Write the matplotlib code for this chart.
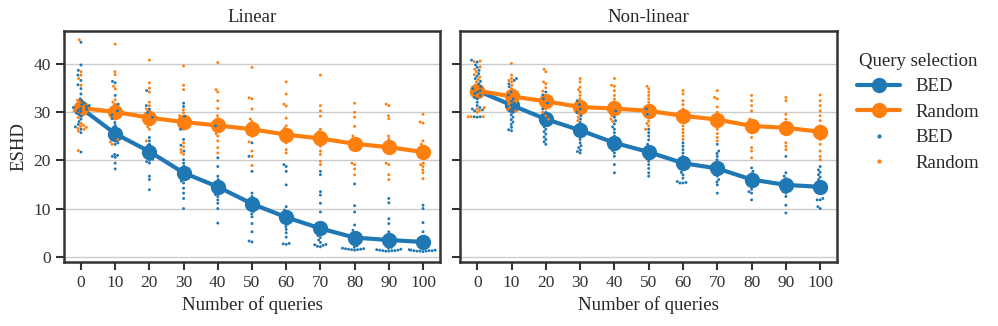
import matplotlib
matplotlib.use("Agg")
import matplotlib.pyplot as plt
from matplotlib.lines import Line2D
import numpy as np
import pandas as pd
import seaborn as sns

queries = [0, 10, 20, 30, 40, 50, 60, 70, 80, 90, 100]
methods = ["BED", "Random"]
colors = ["#1f77b4", "#ff7f0e"]

# mean ESHD per number of queries
lin_bed_mean = [30.8, 25.5, 21.8, 17.4, 14.5, 11.0, 8.2, 5.9, 4.0, 3.5, 3.1]
lin_rnd_mean = [30.8, 30.0, 28.8, 27.9, 27.2, 26.4, 25.3, 24.5, 23.4, 22.7, 21.7]
nl_bed_mean = [34.4, 31.4, 28.5, 26.2, 23.6, 21.7, 19.4, 18.3, 16.0, 14.9, 14.5]
nl_rnd_mean = [34.4, 33.2, 32.2, 31.0, 30.7, 30.2, 29.2, 28.4, 27.1, 26.7, 25.9]

# half width of the error bars
lin_bed_err = [1.6, 1.6, 1.5, 1.5, 1.4, 1.4, 1.3, 1.3, 1.0, 1.0, 1.0]
lin_rnd_err = [1.8, 1.6, 1.5, 1.5, 1.5, 1.4, 1.4, 1.4, 1.3, 1.3, 1.3]
nl_bed_err = [1.0, 1.0, 1.0, 1.0, 1.1, 1.1, 1.0, 1.0, 1.0, 1.0, 1.1]
nl_rnd_err = [1.0, 1.0, 1.0, 1.0, 1.0, 1.0, 1.0, 1.0, 1.0, 1.0, 1.0]

# individual runs
lin_bed_pts = [
    [44.4, 39.7, 38.6, 37.6, 36.5, 35.6, 34.8, 33.7, 32.7, 32.2, 31.8, 31.5, 31.3, 31.1, 30.9, 30.7, 30.5, 30.3, 30.1, 29.8, 29.5, 29.1, 28.5, 28.0, 27.4, 26.9, 26.4, 25.7, 21.7],
    [36.3, 36.0, 33.4, 31.6, 30.2, 29.4, 28.6, 27.8, 27.2, 26.7, 26.3, 26.0, 25.8, 25.6, 25.4, 25.2, 25.0, 24.7, 24.4, 24.0, 23.6, 23.3, 21.2, 21.0, 20.8, 20.6, 19.4, 18.2],
    [34.4, 31.3, 30.6, 29.9, 28.9, 24.7, 24.0, 23.3, 22.6, 22.2, 21.9, 21.6, 21.4, 21.2, 21.0, 20.8, 20.6, 20.4, 20.2, 20.0, 19.7, 19.4, 16.7, 16.0, 13.9],
    [31.8, 31.1, 29.1, 26.4, 24.3, 23.1, 21.9, 20.1, 19.4, 18.8, 18.3, 17.9, 17.6, 17.4, 17.2, 17.0, 16.8, 16.6, 16.3, 16.0, 15.7, 15.3, 14.2, 13.2, 12.1, 10.0],
    [27.1, 20.5, 18.7, 16.7, 16.0, 15.5, 15.1, 14.8, 14.6, 14.4, 14.2, 14.0, 13.8, 13.5, 13.2, 12.9, 12.5, 11.8, 11.1, 10.0, 7.0],
    [23.6, 20.8, 17.7, 13.2, 12.5, 12.0, 11.6, 11.3, 11.0, 10.8, 10.6, 10.4, 10.1, 9.8, 9.4, 8.9, 8.3, 6.9, 5.2, 3.3, 3.1],
    [19.1, 18.7, 17.7, 14.9, 10.4, 9.7, 9.2, 8.8, 8.5, 8.2, 8.0, 7.8, 7.5, 7.2, 6.8, 6.3, 5.7, 5.0, 4.1, 2.8, 2.7, 2.6],
    [17.7, 17.0, 13.5, 12.8, 11.1, 9.3, 6.9, 6.5, 6.2, 5.9, 5.7, 5.4, 5.1, 4.8, 4.4, 4.0, 3.5, 3.0, 2.6, 2.5, 2.4, 2.2, 2.1],
    [15.1, 10.6, 9.3, 6.6, 5.5, 5.0, 4.6, 4.3, 4.0, 3.8, 3.5, 3.2, 2.9, 2.6, 2.3, 2.0, 1.8, 1.7, 1.7, 1.6, 1.6, 1.5, 1.5, 1.4],
    [12.1, 11.2, 7.9, 6.9, 5.2, 4.5, 4.0, 3.6, 3.3, 3.0, 2.7, 2.5, 2.2, 2.0, 1.8, 1.6, 1.5, 1.4, 1.4, 1.3, 1.3, 1.3, 1.2, 1.2],
    [10.7, 10.0, 7.1, 5.2, 4.3, 3.8, 3.4, 3.0, 2.7, 2.4, 2.1, 1.9, 1.7, 1.5, 1.4, 1.4, 1.3, 1.3, 1.3, 1.2, 1.2, 1.2, 1.1],
]
lin_rnd_pts = [
    [44.9, 38.3, 37.6, 36.9, 35.5, 32.4, 31.9, 31.5, 31.2, 31.0, 30.8, 30.6, 30.4, 30.2, 29.9, 29.6, 28.8, 27.6, 27.2, 27.0, 26.8, 26.6, 26.4, 26.0, 22.0],
    [44.0, 38.3, 37.7, 35.3, 34.8, 32.5, 32.0, 31.6, 31.0, 30.6, 30.3, 30.0, 29.8, 29.5, 29.2, 28.9, 28.5, 24.3, 23.8, 23.3],
    [40.7, 36.0, 34.9, 34.1, 32.0, 31.3, 30.6, 29.9, 29.4, 29.0, 28.7, 28.4, 28.1, 27.8, 27.4, 26.9, 26.4, 24.0],
    [39.5, 35.5, 34.6, 30.4, 29.8, 29.2, 28.8, 28.4, 28.1, 27.8, 27.5, 27.2, 26.8, 26.4, 23.6, 22.8, 22.2, 21.6, 21.2],
    [40.2, 34.6, 34.1, 32.3, 30.7, 29.2, 28.6, 28.1, 27.7, 27.3, 26.9, 26.5, 26.0, 25.5, 25.0, 24.0, 22.6, 21.5],
    [39.2, 32.9, 32.7, 30.6, 28.5, 28.0, 27.6, 27.2, 26.8, 26.5, 26.2, 25.8, 25.4, 25.0, 23.8, 21.9, 20.8, 18.9],
    [36.2, 33.7, 31.6, 31.2, 28.7, 27.1, 26.6, 26.1, 25.7, 25.3, 24.9, 24.5, 24.0, 23.6, 22.2, 21.5],
    [37.6, 31.3, 30.2, 29.1, 26.4, 25.9, 25.4, 25.0, 24.6, 24.2, 23.8, 23.3, 22.9, 21.9, 21.2, 19.8, 19.1],
    [31.8, 29.9, 28.9, 27.0, 25.0, 24.5, 24.0, 23.6, 23.2, 22.8, 22.5, 22.2, 19.4, 19.1, 18.2, 17.0],
    [31.6, 31.3, 29.2, 28.6, 25.0, 24.4, 23.8, 23.3, 22.8, 22.4, 22.0, 21.4, 19.4, 19.1, 17.0, 16.0],
    [29.5, 27.9, 27.7, 24.0, 23.3, 22.8, 22.3, 21.9, 21.5, 21.2, 19.4, 19.1, 18.7, 18.0, 17.4, 16.2],
]
nl_bed_pts = [
    [40.7, 40.3, 39.7, 39.2, 38.6, 37.9, 37.4, 36.9, 36.3, 35.8, 35.2, 34.8, 34.4, 34.1, 33.8, 33.4, 33.0, 32.7, 32.0, 31.3, 30.9, 30.6, 30.4, 30.2, 29.0, 29.0, 28.9],
    [36.9, 36.5, 35.8, 35.2, 34.1, 33.5, 32.7, 32.2, 31.8, 31.4, 31.0, 30.6, 30.2, 29.9, 29.4, 28.9, 28.4, 27.9, 27.4, 26.8, 26.3, 26.1],
    [34.1, 33.5, 32.7, 31.8, 30.6, 29.9, 29.2, 28.8, 28.5, 28.2, 27.8, 27.4, 26.9, 26.4, 25.9, 25.4, 24.8, 24.3, 23.8, 23.3],
    [32.3, 31.5, 30.6, 29.9, 29.2, 28.5, 27.8, 27.1, 26.6, 26.2, 25.8, 25.4, 25.0, 24.3, 23.6, 23.0, 22.6, 22.1, 21.8, 21.5],
    [30.2, 28.9, 28.2, 27.5, 26.9, 26.4, 25.7, 25.0, 24.4, 23.9, 23.6, 23.3, 22.9, 22.5, 22.0, 21.5, 20.8, 19.1, 17.4],
    [30.6, 29.5, 26.4, 25.7, 25.0, 24.2, 23.3, 22.8, 22.4, 22.0, 21.7, 21.4, 21.1, 20.8, 20.3, 19.8, 19.1, 18.3, 17.4, 16.7],
    [23.6, 22.9, 22.2, 21.5, 20.8, 20.2, 19.8, 19.4, 19.0, 18.7, 18.3, 18.0, 17.5, 17.0, 16.3, 15.6, 15.3, 15.3, 15.4],
    [23.3, 21.9, 21.4, 20.8, 20.1, 19.5, 18.9, 18.5, 18.2, 18.0, 17.7, 17.4, 17.0, 16.7, 16.0, 15.5, 14.9, 13.2],
    [18.4, 17.7, 17.2, 16.7, 16.4, 16.1, 15.8, 15.5, 15.2, 14.9, 14.6, 14.0, 13.5, 13.2, 11.8],
    [20.8, 17.4, 16.7, 16.2, 15.7, 15.3, 15.0, 14.8, 14.5, 14.2, 13.9, 13.5, 13.2, 12.5, 10.7, 9.1],
    [18.7, 18.0, 17.5, 17.0, 16.5, 16.0, 15.5, 14.9, 14.6, 14.3, 13.9, 13.5, 12.1, 11.8, 11.8, 10.4, 10.0],
]
nl_rnd_pts = [
    [40.5, 40.4, 39.3, 38.8, 38.3, 37.7, 37.2, 36.7, 36.2, 35.6, 35.1, 34.6, 34.2, 33.8, 33.4, 30.9, 30.6, 30.3, 29.9, 29.0, 29.0, 29.0],
    [40.0, 37.6, 36.9, 36.5, 36.2, 35.5, 34.8, 34.2, 33.8, 33.4, 32.8, 32.3, 31.6, 30.9, 30.5, 30.2],
    [38.8, 38.3, 36.2, 35.8, 35.0, 34.3, 33.4, 32.8, 32.3, 31.8, 31.3, 30.6, 29.9, 29.2, 28.5],
    [36.9, 36.2, 35.1, 34.6, 34.1, 33.4, 32.7, 32.1, 31.6, 31.1, 30.6, 29.8, 28.9, 28.2],
    [36.9, 35.5, 35.3, 34.4, 33.4, 32.6, 31.6, 31.1, 30.6, 30.1, 29.6, 29.2, 28.5, 28.0],
    [35.3, 34.8, 34.1, 33.4, 32.7, 32.0, 31.2, 30.2, 29.6, 29.2, 28.7, 28.1, 27.6, 27.1, 26.4],
    [34.4, 33.7, 32.3, 31.5, 30.6, 29.8, 29.2, 28.5, 27.8, 27.1, 26.4, 25.7, 25.0, 24.3],
    [34.4, 33.0, 32.7, 31.0, 29.9, 29.3, 28.8, 28.3, 27.8, 27.1, 26.4, 25.5, 24.7, 24.0],
    [33.4, 32.3, 31.3, 30.2, 28.5, 28.0, 27.4, 26.9, 26.3, 25.7, 24.7, 22.6, 21.9, 20.5],
    [33.0, 32.3, 29.5, 28.5, 27.8, 27.3, 26.8, 26.3, 25.7, 23.6, 22.9, 22.2],
    [33.5, 32.3, 31.3, 30.2, 29.2, 28.2, 27.1, 26.5, 25.9, 25.3, 24.7, 24.3, 23.3, 21.9, 20.8, 20.1],
]


def long_form(bed_pts, rnd_pts):
    rows = []
    for name, pts in zip(methods, [bed_pts, rnd_pts]):
        for q, vals in zip(queries, pts):
            for v in vals:
                rows.append((q, name, v))
    return pd.DataFrame(rows, columns=["queries", "method", "eshd"])


sns.set_theme(style="ticks")
plt.rcParams["font.family"] = ["Liberation Serif", "DejaVu Serif"]
plt.rcParams["axes.edgecolor"] = "#333333"
plt.rcParams["xtick.color"] = "#333333"
plt.rcParams["ytick.color"] = "#333333"

fig = plt.figure(figsize=(9.98, 3.26), dpi=100)
ax1 = fig.add_axes([0.064, 0.197, 0.377, 0.709])
ax2 = fig.add_axes([0.461, 0.197, 0.378, 0.709], sharey=ax1)

panels = [
    (ax1, "Linear", lin_bed_pts, lin_rnd_pts, [lin_bed_mean, lin_rnd_mean], [lin_bed_err, lin_rnd_err]),
    (ax2, "Non-linear", nl_bed_pts, nl_rnd_pts, [nl_bed_mean, nl_rnd_mean], [nl_bed_err, nl_rnd_err]),
]

for ax, title, bed_pts, rnd_pts, means, errs in panels:
    ax.yaxis.grid(True, color="#cccccc", lw=1, zorder=0)
    ax.set_axisbelow(True)
    pos = np.arange(len(queries))
    for m, e, c in zip(means, errs, colors):
        ax.errorbar(pos, m, yerr=e, color=c, lw=3, marker="o", ms=10,
                    elinewidth=3, capsize=0, zorder=2)
    df = long_form(bed_pts, rnd_pts)
    sns.swarmplot(data=df, x="queries", y="eshd", hue="method", order=queries,
                  hue_order=methods, palette=colors, size=2.1, ax=ax,
                  legend=False, zorder=3)
    ax.set_title(title, fontsize=13.5)
    ax.set_xlabel("Number of queries", fontsize=13.5)
    ax.set_ylabel("")
    ax.set_xlim(-0.5, 10.5)
    ax.set_ylim(-1.0, 46.8)
    ax.set_yticks([0, 10, 20, 30, 40])
    ax.tick_params(labelsize=12.5, length=6, width=1.5)
    for sp in ax.spines.values():
        sp.set_visible(True)
        sp.set_linewidth(1.8)

ax1.set_ylabel("ESHD", fontsize=13.5)
ax2.tick_params(labelleft=False)

handles = [Line2D([], [], color=c, lw=3, marker="o", ms=10) for c in colors]
handles += [Line2D([], [], color=c, lw=0, marker="o", ms=2) for c in colors]
fig.legend(handles, methods + methods, title="Query selection", loc="upper left",
           bbox_to_anchor=(0.842, 0.89), frameon=False, fontsize=13.5,
           title_fontsize=13.5, handlelength=2.3, labelspacing=0.45)

fig.savefig("out.png", dpi=100)
